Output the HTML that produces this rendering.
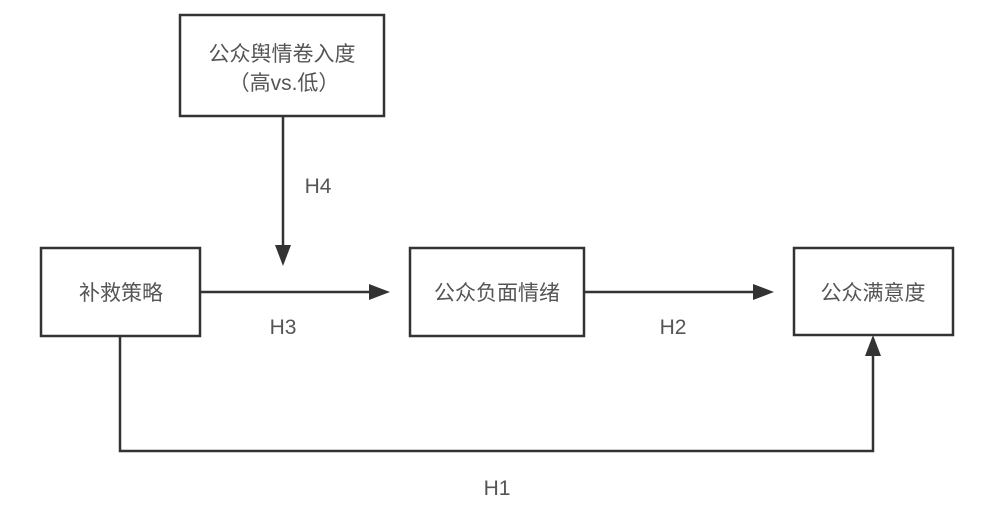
<!DOCTYPE html>
<html><head><meta charset="utf-8"><style>
html,body{margin:0;padding:0;background:#fff;}
svg{display:block;}
text{font-family:"Liberation Sans","Noto Sans CJK SC",sans-serif;fill:#555;}
</style></head><body>
<svg width="994" height="515" viewBox="0 0 994 515" xmlns="http://www.w3.org/2000/svg">
<g fill="none" stroke="#333" stroke-width="2.5">
<rect x="180" y="15" width="204" height="101"/>
<rect x="41" y="248" width="159" height="88"/>
<rect x="410" y="248" width="174" height="88"/>
<rect x="794" y="248" width="159" height="87"/>
<line x1="283" y1="116" x2="283" y2="248"/>
<line x1="200" y1="292" x2="372" y2="292"/>
<line x1="584" y1="292" x2="756" y2="292"/>
<polyline points="120,336 120,451 873,451 873,354"/>
</g>
<g fill="#333">
<polygon points="275,245 291,245 283,266"/>
<polygon points="369,284 369,300 390,292"/>
<polygon points="753,284 753,300 774,292"/>
<polygon points="865,356 881,356 873,335"/>
</g>
<g font-size="21" text-anchor="middle" font-family="'Noto Sans CJK SC',sans-serif">
<text x="282" y="61" font-family="'Noto Sans CJK SC',sans-serif">公众舆情卷入度</text>
<text x="284" y="90" font-family="'Noto Sans CJK SC',sans-serif">（高vs.低）</text>
<text x="121" y="300" font-family="'Noto Sans CJK SC',sans-serif">补救策略</text>
<text x="497" y="300" font-family="'Noto Sans CJK SC',sans-serif">公众负面情绪</text>
<text x="873" y="300" font-family="'Noto Sans CJK SC',sans-serif">公众满意度</text>
</g>
<g font-size="21" text-anchor="middle">
<text x="318" y="193">H4</text>
<text x="283" y="334">H3</text>
<text x="673" y="334">H2</text>
<text x="497" y="495">H1</text>
</g>
</svg>
</body></html>
